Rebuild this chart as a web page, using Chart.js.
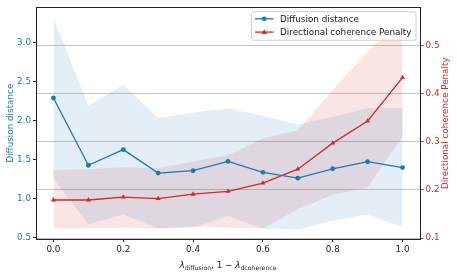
<!DOCTYPE html>
<html>
<head>
<meta charset="utf-8">
<script src="https://cdn.jsdelivr.net/npm/chart.js@4.4.1/dist/chart.umd.min.js"></script>
<style>
  html, body { margin: 0; padding: 0; background: #ffffff; }
  #wrap { width: 457px; height: 274px; position: relative; }
</style>
</head>
<body>
<div id="wrap"><canvas id="c" width="457" height="274"></canvas></div>
<script>
// ---- data ----
const lambdas = [0.0, 0.1, 0.2, 0.3, 0.4, 0.5, 0.6, 0.7, 0.8, 0.9, 1.0];
const diffusionMean  = [2.29, 1.43, 1.63, 1.33, 1.36, 1.48, 1.34, 1.265, 1.385, 1.475, 1.40];
const diffusionUpper = [3.32, 2.19, 2.46, 2.035, 2.10, 2.16, 2.06, 1.95, 2.05, 2.16, 2.16];
const diffusionLower = [1.26, 0.675, 0.80, 0.625, 0.63, 0.78, 0.62, 0.61, 0.72, 0.80, 0.64];
const coherenceMean  = [0.179, 0.179, 0.185, 0.182, 0.191, 0.197, 0.214, 0.243, 0.297, 0.343, 0.433];
const coherenceUpper = [0.241, 0.243, 0.247, 0.245, 0.259, 0.272, 0.307, 0.324, 0.407, 0.486, 0.555];
const coherenceLower = [0.120, 0.120, 0.122, 0.120, 0.124, 0.122, 0.120, 0.160, 0.190, 0.205, 0.310];
const xTicks = [0.0, 0.2, 0.4, 0.6, 0.8, 1.0];
const leftTicks = [0.5, 1.0, 1.5, 2.0, 2.5, 3.0];
const rightTicks = [0.1, 0.2, 0.3, 0.4, 0.5];
const seriesNames = ['Diffusion distance', 'Directional coherence Penalty'];
const leftTitle = 'Diffusion distance';
const rightTitle = 'Directional coherence Penalty';

const BLUE = '#1f77b4';
const RED = '#d62728';
const FONT = "'DejaVu Sans', sans-serif";
const FS = 8.8;

const pts = (ys) => lambdas.map((x, i) => ({ x: x, y: ys[i] }));

Chart.defaults.font.family = FONT;
Chart.defaults.font.size = FS;
Chart.defaults.color = '#222';

const extras = {
  id: 'extras',
  afterDraw(chart) {
    const ctx = chart.ctx;
    const a = chart.chartArea;
    ctx.save();
    // top spine
    ctx.strokeStyle = '#222';
    ctx.lineWidth = 1;
    ctx.beginPath();
    ctx.moveTo(a.left, Math.round(a.top) + 0.5);
    ctx.lineTo(a.right, Math.round(a.top) + 0.5);
    ctx.stroke();

    // legend
    ctx.font = FS + 'px ' + FONT;
    const tw = Math.max(...seriesNames.map(s => ctx.measureText(s).width));
    const bw = 28.5 + tw + 4.5;
    const bh = 28.5;
    const bx = a.right - 4 - bw;
    const by = a.top + 4.5;
    const r = 2;
    ctx.beginPath();
    ctx.moveTo(bx + r, by);
    ctx.lineTo(bx + bw - r, by);
    ctx.quadraticCurveTo(bx + bw, by, bx + bw, by + r);
    ctx.lineTo(bx + bw, by + bh - r);
    ctx.quadraticCurveTo(bx + bw, by + bh, bx + bw - r, by + bh);
    ctx.lineTo(bx + r, by + bh);
    ctx.quadraticCurveTo(bx, by + bh, bx, by + bh - r);
    ctx.lineTo(bx, by + r);
    ctx.quadraticCurveTo(bx, by, bx + r, by);
    ctx.closePath();
    ctx.fillStyle = 'rgba(255,255,255,0.8)';
    ctx.fill();
    ctx.strokeStyle = '#d0d0d0';
    ctx.lineWidth = 1;
    ctx.stroke();

    const rows = [
      { name: seriesNames[0], color: BLUE, marker: 'circle', y: by + 7 },
      { name: seriesNames[1], color: RED, marker: 'triangle', y: by + 20.3 }
    ];
    rows.forEach(row => {
      const hx0 = bx + 3.5, hx1 = bx + 22;
      ctx.strokeStyle = row.color;
      ctx.lineWidth = 1.3;
      ctx.beginPath();
      ctx.moveTo(hx0, row.y);
      ctx.lineTo(hx1, row.y);
      ctx.stroke();
      ctx.fillStyle = row.color;
      const cx = (hx0 + hx1) / 2;
      ctx.beginPath();
      if (row.marker === 'circle') {
        ctx.arc(cx, row.y, 2.4, 0, Math.PI * 2);
      } else {
        ctx.moveTo(cx, row.y - 2.8);
        ctx.lineTo(cx + 2.7, row.y + 1.9);
        ctx.lineTo(cx - 2.7, row.y + 1.9);
        ctx.closePath();
      }
      ctx.fill();
      ctx.fillStyle = '#222';
      ctx.textAlign = 'left';
      ctx.textBaseline = 'middle';
      ctx.fillText(row.name, bx + 28.5, row.y + 0.5);
    });

    // left y title
    const cy = (a.top + a.bottom) / 2;
    ctx.fillStyle = BLUE;
    ctx.textAlign = 'center';
    ctx.textBaseline = 'middle';
    ctx.save();
    ctx.translate(10.5, cy);
    ctx.rotate(-Math.PI / 2);
    ctx.fillText(leftTitle, 0, 0);
    ctx.restore();

    // right y title
    ctx.fillStyle = RED;
    ctx.save();
    ctx.translate(445.5, cy);
    ctx.rotate(-Math.PI / 2);
    ctx.fillText(rightTitle, 0, 0);
    ctx.restore();

    // x title with subscripts
    const mainFont = FS + 'px ' + FONT;
    const subFont = (FS * 0.7).toFixed(2) + 'px ' + FONT;
    const lamFont = 'italic ' + FS + 'px ' + FONT;
    const parts = [
      { t: 'λ', f: lamFont, dy: 0 },
      { t: 'diffusion', f: subFont, dy: 2.6 },
      { t: ', 1 − ', f: mainFont, dy: 0 },
      { t: 'λ', f: lamFont, dy: 0 },
      { t: 'dcoherence', f: subFont, dy: 2.6 }
    ];
    let total = 0;
    parts.forEach(p => { ctx.font = p.f; p.w = ctx.measureText(p.t).width; total += p.w; });
    let x = (a.left + a.right) / 2 - total / 2;
    const baseY = 267.5;
    ctx.fillStyle = '#222';
    ctx.textAlign = 'left';
    ctx.textBaseline = 'alphabetic';
    parts.forEach(p => {
      ctx.font = p.f;
      ctx.fillText(p.t, x, baseY + p.dy);
      x += p.w;
    });
    ctx.restore();
  }
};

const ctx = document.getElementById('c').getContext('2d');
new Chart(ctx, {
  type: 'line',
  data: {
    datasets: [
      {
        label: seriesNames[0], data: pts(diffusionMean), yAxisID: 'y',
        borderColor: BLUE, backgroundColor: BLUE, borderWidth: 1.3,
        pointStyle: 'circle', pointRadius: 2.4, pointBorderWidth: 0, fill: false
      },
      {
        label: seriesNames[1], data: pts(coherenceMean), yAxisID: 'y1',
        borderColor: RED, backgroundColor: RED, borderWidth: 1.3,
        pointStyle: 'triangle', pointRadius: 2.9, pointBorderWidth: 0, fill: false
      },
      {
        label: 'diff upper', data: pts(diffusionUpper), yAxisID: 'y',
        borderWidth: 0, pointRadius: 0, borderColor: 'rgba(0,0,0,0)', fill: false
      },
      {
        label: 'diff lower', data: pts(diffusionLower), yAxisID: 'y',
        borderWidth: 0, pointRadius: 0, borderColor: 'rgba(0,0,0,0)',
        fill: '-1', backgroundColor: 'rgba(31,119,180,0.12)'
      },
      {
        label: 'coh upper', data: pts(coherenceUpper), yAxisID: 'y1',
        borderWidth: 0, pointRadius: 0, borderColor: 'rgba(0,0,0,0)', fill: false
      },
      {
        label: 'coh lower', data: pts(coherenceLower), yAxisID: 'y1',
        borderWidth: 0, pointRadius: 0, borderColor: 'rgba(0,0,0,0)',
        fill: '-1', backgroundColor: 'rgba(214,39,40,0.12)'
      }
    ]
  },
  options: {
    responsive: false,
    animation: false,
    devicePixelRatio: 1,
    layout: { padding: { top: 7, left: 0, right: 0, bottom: 0 } },
    plugins: { legend: { display: false }, tooltip: { enabled: false } },
    elements: { line: { tension: 0 } },
    scales: {
      x: {
        type: 'linear', min: -0.05, max: 1.05,
        afterBuildTicks: (s) => { s.ticks = xTicks.map(v => ({ value: v })); },
        afterFit: (s) => { s.height = 35; },
        ticks: { color: '#222', padding: 2, autoSkip: false, maxRotation: 0,
                 callback: (v) => Number(v).toFixed(1) },
        grid: { drawOnChartArea: false, drawTicks: true, tickLength: 3, tickColor: '#222' },
        border: { display: true, color: '#222', width: 1 }
      },
      y: {
        type: 'linear', position: 'left', min: 0.487, max: 3.45,
        afterBuildTicks: (s) => { s.ticks = leftTicks.map(v => ({ value: v })); },
        afterFit: (s) => { s.width = 36; },
        ticks: { color: BLUE, padding: 2, callback: (v) => Number(v).toFixed(1) },
        grid: { drawOnChartArea: false, drawTicks: true, tickLength: 3, tickColor: '#222' },
        border: { display: true, color: '#222', width: 1 }
      },
      y1: {
        type: 'linear', position: 'right', min: 0.098, max: 0.579,
        afterBuildTicks: (s) => { s.ticks = rightTicks.map(v => ({ value: v })); },
        afterFit: (s) => { s.width = 37; },
        ticks: { color: RED, padding: 2, callback: (v) => Number(v).toFixed(1) },
        grid: { drawOnChartArea: true, color: '#c4c4c4', lineWidth: 1,
                drawTicks: true, tickLength: 3.5, tickColor: RED },
        border: { display: true, color: '#222', width: 1 }
      }
    }
  },
  plugins: [extras]
});
</script>
</body>
</html>
